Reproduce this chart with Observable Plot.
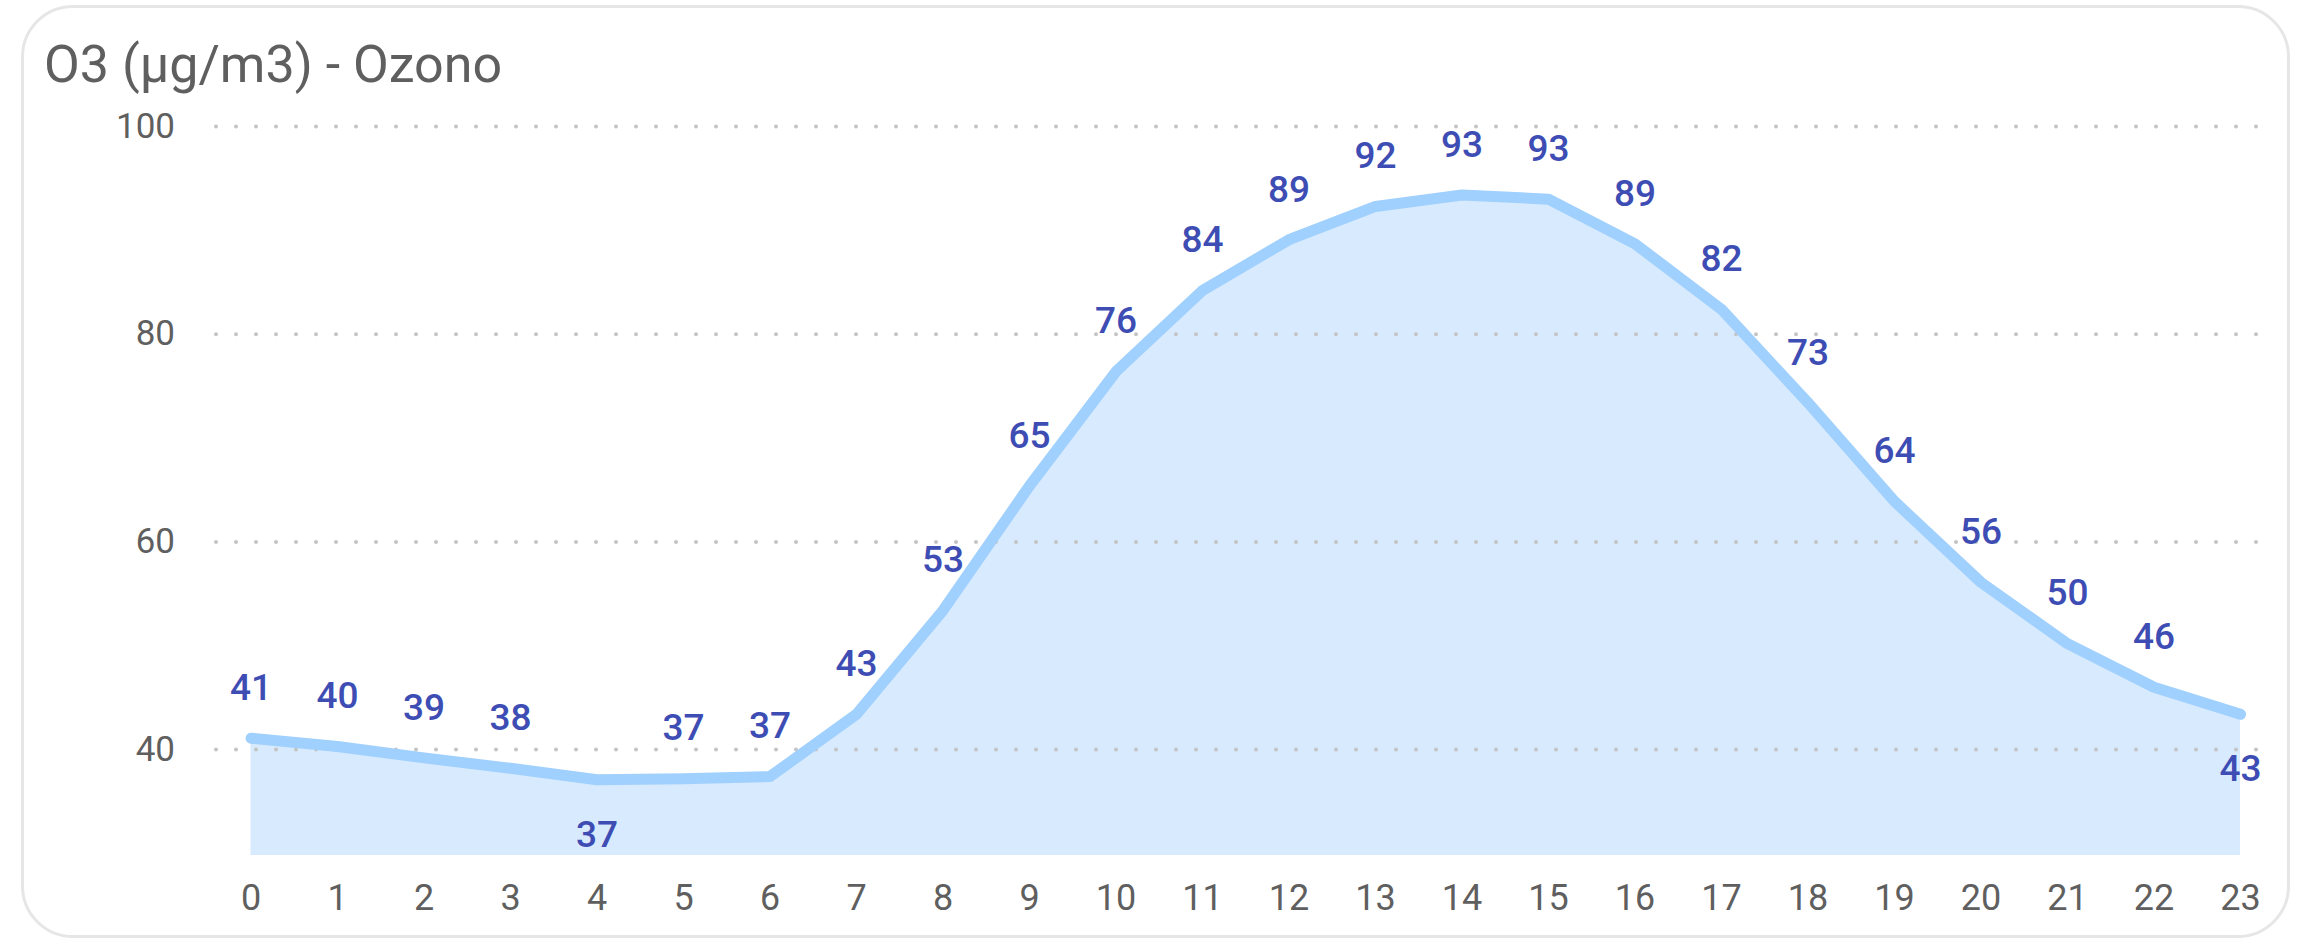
<!DOCTYPE html>
<html>
<head>
<meta charset="utf-8">
<script src="https://cdn.jsdelivr.net/npm/d3@7"></script>
<script src="https://cdn.jsdelivr.net/npm/@observablehq/plot@0.6"></script>
<style>
  html, body { margin: 0; padding: 0; background: #ffffff; }
  #wrap { position: relative; width: 2303px; height: 942px; overflow: hidden; font-family: Roboto, "DejaVu Sans", sans-serif; }
  #frame { position: absolute; left: 21px; top: 5px; width: 2269px; height: 933px; border: 3px solid #e6e6e6; border-radius: 52px; box-sizing: border-box; }
  #title { position: absolute; left: 44px; top: 39px; font-size: 52px; line-height: 1; color: #5f5f5f; white-space: nowrap; }
  #chart { position: absolute; left: 0; top: 95px; }
</style>
</head>
<body>
<div id="wrap">
  <div id="frame"></div>
  <div id="title">O3 (µg/m3) - Ozono</div>
  <div id="chart"></div>
</div>
<script>
// ---- data ----
const titleText = "O3 (µg/m3) - Ozono";
const hours = [0, 1, 2, 3, 4, 5, 6, 7, 8, 9, 10, 11, 12, 13, 14, 15, 16, 17, 18, 19, 20, 21, 22, 23];
const o3 = [41.1, 40.3, 39.2, 38.2, 37.1, 37.2, 37.4, 43.4, 53.4, 65.4, 76.4, 84.2, 89.1, 92.3, 93.4, 93.0, 88.7, 82.4, 73.4, 63.9, 56.1, 50.2, 46.0, 43.4];
const yTicks = [40, 60, 80, 100];
const yMin = 29.8;
const yMax = 100;
const hoursLabelBelow = [4, 23];

// ---- chart ----
const data = hours.map((h, i) => ({hour: h, o3: o3[i]}));
const fmt = d3.format(".0f");
const labelColor = "#3d4db4";
const axisColor = "#5f5f5f";
const font = 'Roboto, "DejaVu Sans", sans-serif';

const chart = Plot.plot({
  width: 2303,
  height: 847,
  marginLeft: 250.5,
  marginRight: 63,
  marginTop: 31,
  marginBottom: 87,
  x: {domain: [hours[0], hours[hours.length - 1]], ticks: hours, label: null},
  y: {domain: [yMin, yMax], ticks: yTicks, label: null},
  style: {fontFamily: font, fontSize: "35px", color: axisColor, background: "transparent", overflow: "visible"},
  marks: [
    Plot.areaY(data, {x: "hour", y1: yMin, y2: "o3", fill: "#d8eafd"}),
    Plot.gridY(yTicks, {stroke: "#c4c4c4", strokeOpacity: 1, strokeWidth: 4, strokeDasharray: "0 20", strokeLinecap: "round", insetLeft: -34.5, insetRight: -17}),
    Plot.lineY(data, {x: "hour", y: "o3", stroke: "#a0d0fd", strokeWidth: 11, strokeLinecap: "round"}),
    Plot.text(data.filter(d => !hoursLabelBelow.includes(d.hour)), {x: "hour", y: "o3", text: d => fmt(d.o3), dy: -50, fill: labelColor, fontSize: 37, fontWeight: 500, letterSpacing: "-1px"}),
    Plot.text(data.filter(d => hoursLabelBelow.includes(d.hour)), {x: "hour", y: "o3", text: d => fmt(d.o3), dy: 55, fill: labelColor, fontSize: 37, fontWeight: 500, letterSpacing: "-1px"}),
    Plot.axisX({ticks: hours, tickSize: 0, tickPadding: 29, fontSize: 36, tickFormat: d => String(d), label: null}),
    Plot.axisY({ticks: yTicks, tickSize: 0, tickPadding: 76, fontSize: 35, label: null})
  ]
});
document.getElementById("chart").appendChild(chart);
document.getElementById("title").textContent = titleText;
</script>
</body>
</html>
